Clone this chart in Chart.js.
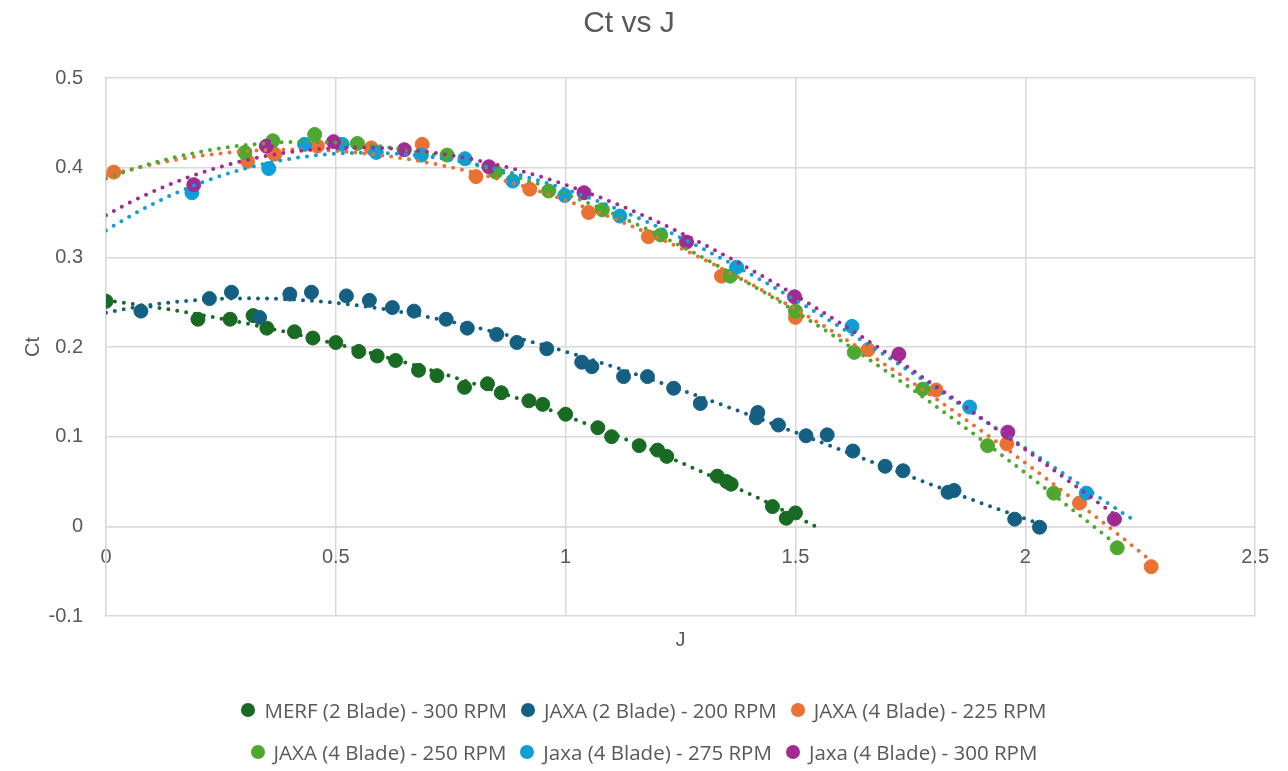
<!DOCTYPE html>
<html>
<head>
<meta charset="utf-8">
<script src="https://cdn.jsdelivr.net/npm/chart.js@4.4.1/dist/chart.umd.min.js"></script>
<style>
  body { margin: 0; background: #fff; }
  #wrap { position: relative; width: 1288px; height: 771px; }
  #legend { position: absolute; left: 0; top: 689px; width: 1288px; font-family: "Open Sans", sans-serif; font-size: 20.5px; color: #595959; }
  .row { display: flex; justify-content: center; gap: 14px; height: 42px; align-items: center; }
  .item { display: flex; align-items: center; white-space: nowrap; }
  .dot { width: 14px; height: 14px; border-radius: 50%; margin-right: 9px; }
</style>
</head>
<body>
<div id="wrap">
  <canvas id="chart" width="1288" height="771"></canvas>
  <div id="legend"></div>
</div>
<script>
// Values
const seriesNames = [
  'MERF (2 Blade) - 300 RPM',
  'JAXA (2 Blade) - 200 RPM',
  'JAXA (4 Blade) - 225 RPM',
  'JAXA (4 Blade) - 250 RPM',
  'Jaxa (4 Blade) - 275 RPM',
  'Jaxa (4 Blade) - 300 RPM'
];
const seriesColors = ['#196B24', '#156082', '#E97132', '#4EA72E', '#0F9ED5', '#A02B93'];

const merfJ = [0, 0.2, 0.27, 0.32, 0.35, 0.41, 0.45, 0.5, 0.55, 0.59, 0.63, 0.68, 0.72, 0.78, 0.83, 0.86, 0.92, 0.95, 1.0, 1.07, 1.1, 1.16, 1.2, 1.22, 1.33, 1.35, 1.36, 1.45, 1.48, 1.5];
const merfCt = [0.251, 0.231, 0.231, 0.235, 0.221, 0.217, 0.21, 0.205, 0.195, 0.19, 0.185, 0.174, 0.168, 0.155, 0.159, 0.149, 0.14, 0.136, 0.125, 0.11, 0.1, 0.09, 0.085, 0.078, 0.056, 0.05, 0.047, 0.022, 0.009, 0.015];

const jaxa2J = [0.076, 0.225, 0.273, 0.334, 0.40, 0.447, 0.523, 0.573, 0.623, 0.67, 0.74, 0.786, 0.85, 0.894, 0.959, 1.035, 1.057, 1.126, 1.178, 1.235, 1.293, 1.415, 1.418, 1.463, 1.523, 1.569, 1.625, 1.695, 1.734, 1.832, 1.845, 1.977, 2.031];
const jaxa2Ct = [0.240, 0.254, 0.261, 0.233, 0.259, 0.261, 0.257, 0.252, 0.244, 0.240, 0.231, 0.221, 0.214, 0.205, 0.198, 0.183, 0.178, 0.167, 0.167, 0.154, 0.137, 0.121, 0.127, 0.113, 0.101, 0.102, 0.084, 0.067, 0.062, 0.038, 0.040, 0.008, -0.001];

const jaxa225J = [0.017, 0.308, 0.367, 0.46, 0.577, 0.688, 0.805, 0.922, 1.05, 1.18, 1.339, 1.5, 1.658, 1.806, 1.96, 2.118, 2.274];
const jaxa225Ct = [0.395, 0.407, 0.415, 0.424, 0.422, 0.426, 0.390, 0.376, 0.350, 0.323, 0.279, 0.233, 0.197, 0.152, 0.092, 0.026, -0.045];

const jaxa250J = [0.302, 0.363, 0.454, 0.547, 0.742, 0.848, 0.963, 1.08, 1.207, 1.358, 1.5, 1.628, 1.777, 1.918, 2.062, 2.2];
const jaxa250Ct = [0.417, 0.430, 0.437, 0.427, 0.414, 0.395, 0.374, 0.353, 0.325, 0.279, 0.240, 0.194, 0.153, 0.090, 0.037, -0.024];

const jaxa275J = [0.187, 0.354, 0.432, 0.514, 0.588, 0.686, 0.781, 0.885, 0.998, 1.118, 1.372, 1.623, 1.879, 2.133];
const jaxa275Ct = [0.372, 0.399, 0.426, 0.426, 0.417, 0.414, 0.410, 0.385, 0.369, 0.346, 0.289, 0.223, 0.133, 0.037];

const jaxa300J = [0.191, 0.349, 0.495, 0.649, 0.833, 1.04, 1.263, 1.498, 1.725, 1.962, 2.194];
const jaxa300Ct = [0.381, 0.424, 0.429, 0.420, 0.401, 0.372, 0.317, 0.256, 0.192, 0.105, 0.008];

const seriesJ = [merfJ, jaxa2J, jaxa225J, jaxa250J, jaxa275J, jaxa300J];
const seriesCt = [merfCt, jaxa2Ct, jaxa225Ct, jaxa250Ct, jaxa275Ct, jaxa300Ct];

// polynomial trendlines: order and J range of each
const trendOrder = [2, 3, 3, 3, 3, 3];
const trendFrom = [0, 0, 0, 0, 0, 0];
const trendTo = [1.55, 2.03, 2.274, 2.2, 2.233, 2.2];

const xTicks = [0, 0.5, 1, 1.5, 2, 2.5];
const yTicks = [-0.1, 0, 0.1, 0.2, 0.3, 0.4, 0.5];

const GRID = '#d9d9d9';
const TEXT = '#595959';
const FONT = '"Liberation Sans", Arial, sans-serif';

// least squares polynomial fit, like Excel's trendline
function polyFit(xs, ys, order) {
  const n = order + 1;
  const A = [];
  for (let i = 0; i < n; i++) A.push(new Array(n + 1).fill(0));
  for (let k = 0; k < xs.length; k++) {
    for (let i = 0; i < n; i++) {
      for (let j = 0; j < n; j++) A[i][j] += Math.pow(xs[k], i + j);
      A[i][n] += ys[k] * Math.pow(xs[k], i);
    }
  }
  for (let c = 0; c < n; c++) {
    let p = c;
    for (let r = c + 1; r < n; r++) if (Math.abs(A[r][c]) > Math.abs(A[p][c])) p = r;
    [A[c], A[p]] = [A[p], A[c]];
    for (let r = 0; r < n; r++) {
      if (r === c) continue;
      const f = A[r][c] / A[c][c];
      for (let j = c; j <= n; j++) A[r][j] -= f * A[c][j];
    }
  }
  return A.map((row, i) => row[n] / row[i]);
}

function trendPoints(i) {
  const coef = polyFit(seriesJ[i], seriesCt[i], trendOrder[i]);
  const pts = [];
  const steps = 120;
  for (let s = 0; s <= steps; s++) {
    const x = trendFrom[i] + (trendTo[i] - trendFrom[i]) * s / steps;
    let y = 0;
    coef.forEach((c, k) => { y += c * Math.pow(x, k); });
    pts.push({x: x, y: y});
  }
  return pts;
}

const datasets = [];
seriesNames.forEach((name, i) => {
  datasets.push({
    label: name,
    data: seriesJ[i].map((j, k) => ({x: j, y: seriesCt[i][k]})),
    backgroundColor: seriesColors[i],
    borderColor: seriesColors[i],
    borderWidth: 1,
    pointRadius: 7,
    pointHoverRadius: 7,
    showLine: false,
    xAxisID: 'x',
    yAxisID: 'y',
    order: 20 - i
  });
});
seriesNames.forEach((name, i) => {
  datasets.push({
    label: name + ' trend',
    data: trendPoints(i),
    borderColor: seriesColors[i],
    borderWidth: 4,
    borderDash: [0, 9],
    borderCapStyle: 'round',
    pointRadius: 0,
    showLine: true,
    fill: false,
    xAxisID: 'x',
    yAxisID: 'y',
    order: 10 - i
  });
});

const fmt = v => String(Number(v.toFixed(2)));

new Chart(document.getElementById('chart'), {
  type: 'scatter',
  data: {datasets: datasets},
  options: {
    responsive: false,
    animation: false,
    layout: {padding: {top: 6, right: 30, left: 0, bottom: 0}},
    plugins: {
      legend: {display: false},
      tooltip: {enabled: false},
      title: {
        display: true,
        text: 'Ct vs J',
        color: TEXT,
        font: {family: FONT, size: 30, weight: 'normal'},
        padding: {top: 0, bottom: 36}
      }
    },
    scales: {
      x: {
        type: 'linear',
        position: {y: 0},
        min: 0,
        max: 2.5,
        afterBuildTicks: s => { s.ticks = xTicks.map(v => ({value: v})); },
        grid: {color: GRID, lineWidth: 1.5, drawTicks: false},
        border: {color: GRID, width: 1.5},
        ticks: {
          color: TEXT,
          font: {family: FONT, size: 20},
          padding: 19,
          maxRotation: 0,
          callback: v => fmt(v)
        }
      },
      xt: {
        type: 'linear',
        axis: 'x',
        position: 'bottom',
        min: 0,
        max: 2.5,
        grid: {display: false},
        border: {display: false},
        ticks: {display: false},
        title: {
          display: true,
          text: 'J',
          color: TEXT,
          font: {family: FONT, size: 20},
          padding: {top: 0, bottom: 119}
        },
        afterFit: s => { s.height = 155; }
      },
      y: {
        type: 'linear',
        position: 'left',
        min: -0.1,
        max: 0.5,
        afterBuildTicks: s => { s.ticks = yTicks.map(v => ({value: v})); },
        grid: {color: GRID, lineWidth: 1.5, drawTicks: false},
        border: {color: GRID, width: 1.5},
        ticks: {
          color: TEXT,
          font: {family: FONT, size: 20},
          padding: 23,
          callback: v => fmt(v)
        },
        title: {
          display: true,
          text: 'Ct',
          color: TEXT,
          font: {family: FONT, size: 20},
          padding: {top: 21, bottom: 0}
        },
        afterFit: s => { s.width = 106; }
      }
    }
  }
});

// legend, three items per row like the reference
const legend = document.getElementById('legend');
[[0, 1, 2], [3, 4, 5]].forEach(idx => {
  const row = document.createElement('div');
  row.className = 'row';
  idx.forEach(i => {
    const item = document.createElement('div');
    item.className = 'item';
    const dot = document.createElement('span');
    dot.className = 'dot';
    dot.style.background = seriesColors[i];
    const label = document.createElement('span');
    label.textContent = seriesNames[i];
    item.appendChild(dot);
    item.appendChild(label);
    row.appendChild(item);
  });
  legend.appendChild(row);
});
</script>
</body>
</html>
